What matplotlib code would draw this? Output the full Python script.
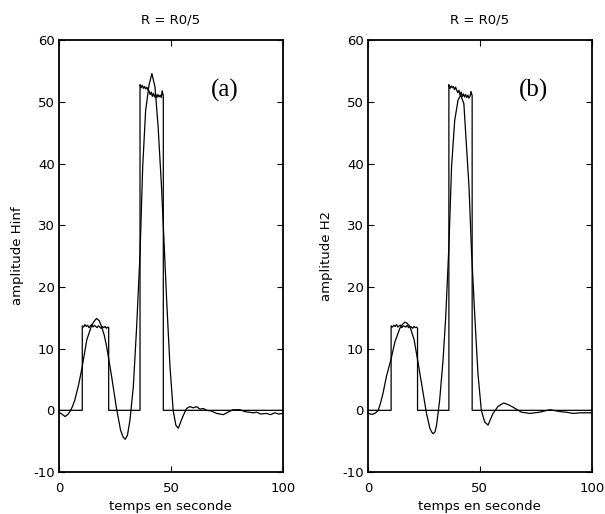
import numpy as np
import matplotlib
matplotlib.use("Agg")
from matplotlib import pyplot as plt

# input signal (noisy rectangular pulses), same timing for both panels
input_t = [0, 10.4, 10.4, 11.0, 11.6, 12.2, 12.8, 13.4, 14.0, 14.6, 15.2, 15.8, 16.4,
           17.0, 17.6, 18.2, 18.8, 19.4, 20.0, 20.6, 21.2, 21.8, 22.2, 22.2,
           36.2, 36.2, 36.7, 37.2, 37.7, 38.2, 38.7, 39.2, 39.7, 40.2, 40.7, 41.2,
           41.7, 42.2, 42.7, 43.2, 43.7, 44.2, 44.7, 45.2, 45.7, 46.1, 46.6, 46.6, 100]
input_a = [0, 0, 13.7, 13.5, 13.9, 13.6, 13.8, 13.4, 13.7, 13.9, 13.5, 13.8, 13.6,
           13.4, 13.7, 13.5, 13.3, 13.6, 13.4, 13.6, 13.3, 13.5, 13.4, 0,
           0, 52.8, 52.3, 52.7, 52.2, 52.5, 52.1, 52.4, 52.0, 51.8, 51.2, 51.6,
           50.9, 51.4, 50.8, 51.3, 50.7, 51.2, 50.8, 51.1, 50.7, 51.8, 51.0, 0, 0]
input_b = [0, 0, 13.7, 13.5, 13.8, 13.6, 13.9, 13.5, 13.7, 13.8, 13.4, 13.7, 13.6,
           13.5, 13.8, 13.4, 13.6, 13.5, 13.3, 13.6, 13.4, 13.5, 13.3, 0,
           0, 52.8, 52.2, 52.6, 52.3, 52.5, 52.0, 52.4, 51.9, 51.5, 51.9, 51.1,
           51.6, 50.9, 51.3, 50.8, 51.2, 50.7, 51.1, 50.6, 51.0, 51.7, 51.0, 0, 0]

# filtered output, panel (a) Hinf
out_t_a = [0, 1.2, 2.7, 3.9, 4.9, 6.0, 7.1, 8.8, 10.4, 12.4, 14.6, 15.8, 16.8, 18.0,
           19.0, 20.2, 21.3, 23.5, 25.7, 27.5, 28.6, 29.6, 30.6, 31.7, 33.2, 34.7,
           36.2, 37.4, 38.7, 40.2, 41.5, 42.9, 44.3, 45.8, 46.9, 48.1, 49.6, 51.0,
           52.2, 53.3, 55.2, 57.0, 58.5, 60.0, 61.4, 63.0, 64.5, 65.9, 68.0, 70.4,
           73.4, 75.5, 77.8, 80.8, 83.0, 86.7, 88.5, 90.0, 92.7, 94.5, 96.5, 98.0, 100]
out_a = [-0.3, -0.6, -1.0, -0.7, -0.2, 0.6, 1.7, 4.2, 7.1, 11.4, 13.8, 14.5, 14.9, 14.5,
         13.6, 12.2, 10.3, 5.5, 0.3, -3.2, -4.3, -4.7, -4.0, -1.6, 3.8, 13.6,
         25.4, 39.5, 48.6, 52.7, 54.6, 52.4, 45.9, 36.2, 27.6, 17.8, 7.0, 0.0,
         -2.4, -2.9, -1.1, 0.3, 0.6, 0.4, 0.6, 0.2, 0.3, 0.0, -0.1, -0.5,
         -0.7, -0.3, 0.1, 0.1, -0.2, -0.4, -0.3, -0.6, -0.5, -0.7, -0.4, -0.6, -0.5]

# filtered output, panel (b) H2
out_t_b = [0, 1.0, 2.1, 3.3, 4.6, 5.7, 6.8, 8.3, 10.3, 12.1, 14.3, 15.4, 16.5, 17.6,
           18.8, 20.7, 22.5, 24.7, 26.2, 27.7, 28.5, 29.2, 30.0, 30.7, 32.1, 33.6,
           34.8, 36.2, 37.4, 38.8, 40.3, 41.5, 42.9, 44.0, 45.2, 46.3, 47.8, 49.2,
           50.7, 52.2, 53.7, 55.9, 58.2, 60.7, 62.8, 64.9, 68.6, 72.3, 76.8, 81.3,
           85.7, 88.5, 91.7, 95.0, 100]
out_b = [-0.4, -0.6, -0.65, -0.45, -0.05, 1.2, 2.8, 5.5, 8.2, 11.1, 13.3, 13.9, 14.3, 14.1,
         13.6, 11.4, 7.6, 2.8, -0.5, -2.9, -3.5, -3.8, -3.5, -2.4, 1.7, 8.2,
         15.2, 26.5, 39.5, 47.0, 50.3, 51.1, 49.7, 43.2, 36.2, 25.9, 15.1, 5.9,
         0.0, -1.9, -2.4, -0.5, 0.65, 1.2, 0.9, 0.5, -0.3, -0.5, -0.3, 0.1,
         -0.2, -0.3, -0.5, -0.4, -0.4]

titles = ["R = R0/5", "R = R0/5"]
ylabels = ["amplitude Hinf", "amplitude H2"]
tags = ["(a)", "(b)"]
x_ticks = [0, 50, 100]
y_ticks = [-10, 0, 10, 20, 30, 40, 50, 60]

plt.rcParams['font.family'] = ['DejaVu Sans']
plt.rcParams['axes.unicode_minus'] = False

fig = plt.figure(figsize=(6.05, 5.14), dpi=100)
ax1 = fig.add_axes([0.0975, 0.0817, 0.370, 0.840])
ax2 = fig.add_axes([0.608, 0.0817, 0.370, 0.840])

panels = [(ax1, input_a, out_t_a, out_a), (ax2, input_b, out_t_b, out_b)]
for i, (ax, inp, ot, ov) in enumerate(panels):
    ax.plot(input_t, inp, color='black', lw=0.9)
    ax.plot(ot, ov, color='black', lw=0.9)
    ax.set_xlim(0, 100)
    ax.set_ylim(-10, 60)
    ax.set_xticks(x_ticks)
    ax.set_yticks(y_ticks)
    ax.tick_params(direction='in', length=4, width=0.8, top=True, right=True,
                   labelsize=9.5)
    ax.tick_params(axis='x', pad=7)
    ax.tick_params(axis='y', pad=3)
    for s in ax.spines.values():
        s.set_linewidth(1.3)
    ax.set_title(titles[i], fontsize=9.5, y=1.046, va='center', pad=0)
    ax.set_ylabel(ylabels[i], fontsize=9.5, va='center')
    ax.yaxis.set_label_coords(-0.185, 0.5)
    ax.set_xlabel("temps en seconde", fontsize=9.5, va='center')
    ax.xaxis.set_label_coords(0.5, -0.081)
    ax.text(74, 51.9, tags[i], family=['Liberation Serif', 'DejaVu Serif'],
            fontsize=18, ha='center', va='center')

plt.savefig("out.png", dpi=100)
